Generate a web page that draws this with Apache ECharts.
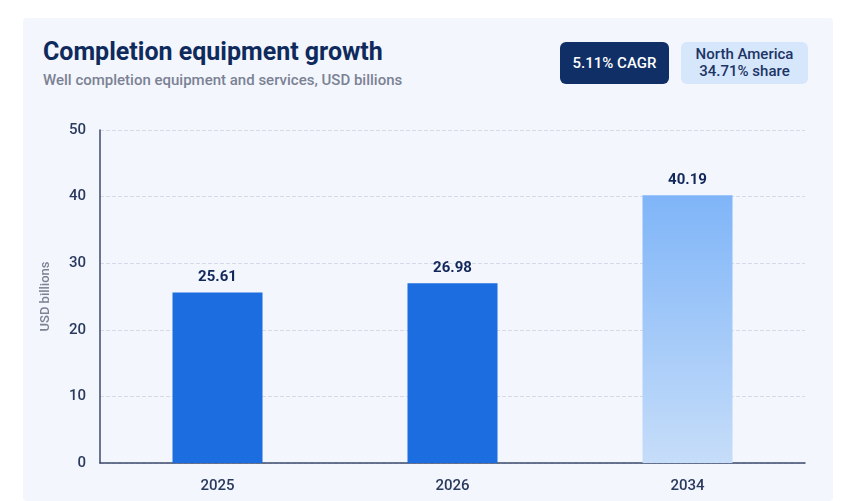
<!DOCTYPE html>
<html>
<head>
<meta charset="utf-8">
<title>Completion equipment growth</title>
<script src="https://cdn.jsdelivr.net/npm/echarts@6/dist/echarts.min.js"></script>
<style>
  html, body { margin: 0; padding: 0; background: #ffffff; font-family: Roboto, sans-serif; }
  .card { position: absolute; left: 23px; top: 18px; width: 810px; height: 483px; background: #f3f6fd; border-radius: 4px; }
  .title { position: absolute; left: 20px; top: 19px; font-size: 25px; font-weight: 700; color: #0f2a5c; }
  .sub { position: absolute; left: 20px; top: 53px; font-size: 15px; font-weight: 500; color: #7b8294; }
  .badge { position: absolute; top: 24px; height: 42px; border-radius: 6px; font-size: 15px; font-weight: 500; display: flex; align-items: center; justify-content: center; text-align: center; line-height: 17px; }
  .b1 { left: 537px; width: 109px; background: #0f2f66; color: #ffffff; }
  .b2 { left: 658px; width: 127px; background: #d6e6fb; color: #1c3566; }
  #chart { position: absolute; left: 0; top: 0; width: 856px; height: 501px; }
</style>
</head>
<body>
<div class="card">
  <div class="title">Completion equipment growth</div>
  <div class="sub">Well completion equipment and services, USD billions</div>
  <div class="badge b1">5.11% CAGR</div>
  <div class="badge b2">North America<br>34.71% share</div>
</div>
<div id="chart"></div>
<script>
var years = ['2025', '2026', '2034'];
var values = [25.61, 26.98, 40.19];

var chart = echarts.init(document.getElementById('chart'));
var solid = '#1c6ddf';
var faded = new echarts.graphic.LinearGradient(0, 0, 0, 1, [
  { offset: 0, color: '#7fb5f8' },
  { offset: 1, color: '#c6ddf9' }
]);

chart.setOption({
  animation: false,
  grid: { left: 100, right: 51, top: 130, bottom: 38 },
  xAxis: {
    type: 'category',
    data: years,
    axisTick: { show: false },
    axisLine: { lineStyle: { color: '#3c4a6b', width: 1.5 } },
    axisLabel: { color: '#2a3a5e', fontSize: 15, fontWeight: 500, margin: 16, fontFamily: 'Roboto' }
  },
  yAxis: {
    type: 'value',
    min: 0, max: 50, interval: 10,
    name: 'USD billions',
    nameLocation: 'middle',
    nameGap: 48,
    nameTextStyle: { color: '#7b8294', fontSize: 13, fontWeight: 500, fontFamily: 'Roboto' },
    axisLine: { show: true, lineStyle: { color: '#3c4a6b', width: 1.5 } },
    axisLabel: { color: '#2a3a5e', fontSize: 15, fontWeight: 500, margin: 14, fontFamily: 'Roboto' },
    splitLine: { lineStyle: { color: '#d5dbe6', type: 'dashed' } }
  },
  series: [{
    type: 'bar',
    barWidth: 90,
    data: values.map(function (v, i) {
      return { value: v, itemStyle: { color: i === 2 ? faded : solid } };
    }),
    label: {
      show: true,
      position: 'top',
      distance: 8,
      color: '#13285a',
      fontSize: 15,
      fontWeight: 'bold',
      fontFamily: 'Roboto',
      formatter: function (p) { return p.value.toFixed(2); }
    }
  }]
});
</script>
</body>
</html>
